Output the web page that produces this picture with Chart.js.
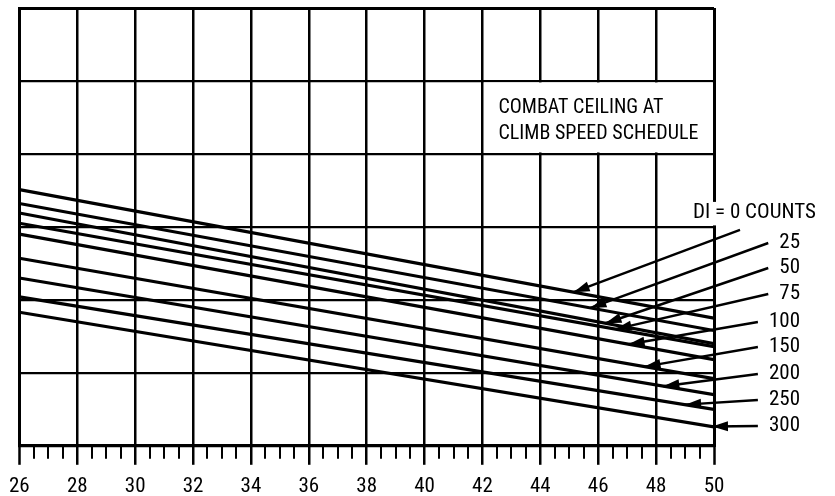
<!DOCTYPE html>
<html>
<head>
<meta charset="utf-8">
<script src="https://cdn.jsdelivr.net/npm/chart.js@4.4.1/dist/chart.umd.min.js"></script>
<style>
  html, body { margin: 0; padding: 0; background: #fff; }
</style>
</head>
<body>
<canvas id="chart" width="835" height="496"></canvas>
<script>
// --- Data ---
const xRange = [26, 50];
const xTickLabels = [26, 28, 30, 32, 34, 36, 38, 40, 42, 44, 46, 48, 50];
const diCounts = ['0', '25', '50', '75', '100', '150', '200', '250', '300'];
// ceiling (grid units, 0..6) at the left and right ends of each line
const ceilingAtLeft  = [3.51, 3.32, 3.19, 3.05, 2.90, 2.57, 2.30, 2.04, 1.83];
const ceilingAtRight = [1.75, 1.58, 1.40, 1.36, 1.18, 0.92, 0.70, 0.50, 0.26];
// x where each leader arrow touches its line
const arrowTipX = [45.15, 45.73, 46.25, 46.6, 47.05, 47.6, 48.25, 49.0, 49.93];
const boxTitle = ['COMBAT CEILING AT', 'CLIMB SPEED SCHEDULE'];

const FONT = "'Roboto Condensed', 'DejaVu Sans Condensed', sans-serif";
Chart.defaults.font.family = FONT;
Chart.defaults.color = '#000';

const isMajor = v => v % 2 === 0;

const datasets = diCounts.map((di, i) => ({
    label: 'DI = ' + di,
    data: [
        { x: xRange[0], y: ceilingAtLeft[i] },
        { x: xRange[1], y: ceilingAtRight[i] }
    ],
    borderColor: '#000',
    borderWidth: 3.2,
    pointRadius: 0,
    tension: 0,
    fill: false
}));

// value on line i at x (straight lines)
const lineValueAt = (i, x) =>
    ceilingAtLeft[i] + (ceilingAtRight[i] - ceilingAtLeft[i]) * (x - xRange[0]) / (xRange[1] - xRange[0]);

// --- Plugins ---

// white box holding the chart title, covering the inner grid lines of that cell
const titleBox = {
    id: 'titleBox',
    beforeDatasetsDraw(chart) {
        const { ctx, scales: { x, y } } = chart;
        const left = x.getPixelForValue(42), right = x.getPixelForValue(50);
        const top = y.getPixelForValue(5), bottom = y.getPixelForValue(4);
        ctx.save();
        ctx.fillStyle = '#fff';
        ctx.fillRect(left + 1.5, top + 1.5, right - left - 3, bottom - top - 3);
        ctx.fillStyle = '#000';
        ctx.font = '20px ' + FONT;
        ctx.textBaseline = 'middle';
        ctx.textAlign = 'left';
        ctx.fillText(boxTitle[0], left + 16, top + 27);
        ctx.fillText(boxTitle[1], left + 16, top + 53);
        ctx.restore();
    }
};

// short minor ticks between the labelled ones
const minorTicks = {
    id: 'minorTicks',
    afterDraw(chart) {
        const { ctx, scales: { x } } = chart;
        ctx.save();
        ctx.strokeStyle = '#000';
        ctx.lineWidth = 2;
        x.ticks.forEach(t => {
            if (isMajor(t.value)) return;
            const px = Math.round(x.getPixelForValue(t.value));
            ctx.beginPath();
            ctx.moveTo(px, x.top);
            ctx.lineTo(px, x.top + 13);
            ctx.stroke();
        });
        ctx.restore();
    }
};

// DI labels with leader arrows
const leaders = {
    id: 'leaders',
    afterDatasetsDraw(chart) {
        const { ctx, chartArea: area, scales: { x, y } } = chart;
        const rowY = [213, 243, 268, 294, 322, 347, 374, 400, 426];
        const textRight = area.right + 86;
        ctx.save();
        ctx.font = '21px ' + FONT;
        ctx.textBaseline = 'middle';

        // first label sits on a white patch over the frame
        const gridY3 = y.getPixelForValue(3);
        ctx.fillStyle = '#fff';
        ctx.fillRect(area.right - 24, gridY3 - 25, 130, 23.5);

        diCounts.forEach((di, i) => {
            ctx.fillStyle = '#000';
            let sx, sy;
            if (i === 0) {
                ctx.textAlign = 'left';
                ctx.fillText('DI = 0 COUNTS', area.right - 21, rowY[0]);
                sx = area.right + 26;
                sy = gridY3 + 3;
            } else {
                ctx.textAlign = 'right';
                ctx.fillText(di, textRight, rowY[i]);
                const w = ctx.measureText(di).width;
                sx = textRight - w - 11;
                sy = rowY[i];
            }
            const tx = x.getPixelForValue(arrowTipX[i]);
            const ty = y.getPixelForValue(lineValueAt(i, arrowTipX[i]));
            ctx.strokeStyle = '#000';
            ctx.lineWidth = 2.4;
            ctx.beginPath();
            ctx.moveTo(sx, sy);
            ctx.lineTo(tx, ty);
            ctx.stroke();
            // arrow head
            const a = Math.atan2(ty - sy, tx - sx);
            const len = 16, half = 5;
            ctx.beginPath();
            ctx.moveTo(tx, ty);
            ctx.lineTo(tx - len * Math.cos(a) + half * Math.sin(a), ty - len * Math.sin(a) - half * Math.cos(a));
            ctx.lineTo(tx - len * Math.cos(a) - half * Math.sin(a), ty - len * Math.sin(a) + half * Math.cos(a));
            ctx.closePath();
            ctx.fill();
        });
        ctx.restore();
    }
};

// --- Chart ---
new Chart(document.getElementById('chart').getContext('2d'), {
    type: 'line',
    data: { datasets },
    options: {
        responsive: false,
        animation: false,
        layout: { padding: { left: 17, right: 121, top: 8, bottom: -12 } },
        plugins: {
            legend: { display: false },
            tooltip: { enabled: false }
        },
        scales: {
            x: {
                type: 'linear',
                min: xRange[0],
                max: xRange[1],
                ticks: {
                    stepSize: 0.5,
                    autoSkip: false,
                    maxRotation: 0,
                    padding: 9,
                    font: { size: 21 },
                    color: '#000',
                    callback: v => xTickLabels.includes(v) ? String(v) : ''
                },
                grid: {
                    color: c => (c.tick && isMajor(c.tick.value)) ? '#000' : 'rgba(0,0,0,0)',
                    lineWidth: c => (c.tick && (c.tick.value === xRange[0] || c.tick.value === xRange[1])) ? 3 : 2.5,
                    tickColor: c => (c.tick && isMajor(c.tick.value)) ? '#000' : 'rgba(0,0,0,0)',
                    tickLength: 19,
                    tickWidth: 2.5
                },
                border: { color: '#000', width: 3 }
            },
            y: {
                min: 0,
                max: 6,
                ticks: { stepSize: 1, display: false },
                grid: {
                    color: '#000',
                    lineWidth: c => (c.tick && c.tick.value === 6) ? 3 : 2.2,
                    drawTicks: false
                },
                border: { color: '#000', width: 3 }
            }
        }
    },
    plugins: [titleBox, minorTicks, leaders]
});
</script>
</body>
</html>
